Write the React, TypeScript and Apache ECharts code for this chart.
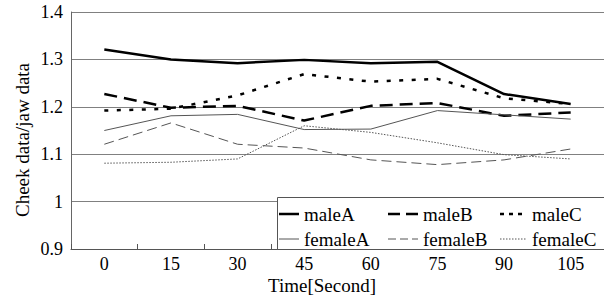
import React, { useEffect, useRef } from "react";
import * as echarts from "echarts";

const categories = ["0", "15", "30", "45", "60", "75", "90", "105"];
const seriesNames = ["maleA", "maleB", "maleC", "femaleA", "femaleB", "femaleC"];
const maleA = [1.321, 1.3, 1.292, 1.299, 1.292, 1.295, 1.227, 1.206];
const maleB = [1.227, 1.198, 1.202, 1.171, 1.202, 1.208, 1.181, 1.188];
const maleC = [1.192, 1.196, 1.224, 1.269, 1.253, 1.259, 1.218, 1.206];
const femaleA = [1.15, 1.181, 1.184, 1.152, 1.153, 1.192, 1.183, 1.174];
const femaleB = [1.121, 1.166, 1.121, 1.113, 1.088, 1.078, 1.088, 1.111];
const femaleC = [1.081, 1.083, 1.09, 1.16, 1.146, 1.124, 1.099, 1.09];
const values = [maleA, maleB, maleC, femaleA, femaleB, femaleC];

const FONT = "Liberation Serif";

const styles = [
  { color: "#000", width: 2.5, dash: null as number[] | null },
  { color: "#000", width: 2.5, dash: [13, 7] },
  { color: "#000", width: 2.5, dash: [4, 8.5] },
  { color: "#555", width: 1, dash: null },
  { color: "#555", width: 1, dash: [10, 5] },
  { color: "#555", width: 1, dash: [1.5, 1.5] },
];

export default function App() {
  const ref = useRef<HTMLDivElement>(null);
  useEffect(() => {
    if (!ref.current) return;
    const chart = echarts.init(ref.current, undefined, { renderer: "svg" });

    // legend layout: 3 columns x 2 rows
    const colIcon = [
      [279, 299],
      [388, 418],
      [500, 527],
    ];
    const legendDash = [null, [12, 6], [4, 5], null, [8, 4], [1.5, 1.5]];
    const rowY = [214, 239];
    const legendEls: any[] = [];
    seriesNames.forEach((name, i) => {
      const col = i % 3;
      const row = Math.floor(i / 3);
      const st = styles[i];
      legendEls.push({
        type: "line",
        z: 11,
        shape: { x1: colIcon[col][0], y1: rowY[row], x2: colIcon[col][1], y2: rowY[row] },
        style: {
          stroke: st.color,
          lineWidth: st.width,
          lineDash: legendDash[i] || undefined,
        },
      });
      legendEls.push({
        type: "text",
        z: 11,
        x: colIcon[col][1] + 5,
        y: rowY[row],
        style: {
          text: name,
          fontFamily: FONT,
          fontSize: 19,
          fill: "#000",
          align: "left",
          verticalAlign: "middle",
        },
      });
    });

    chart.setOption({
      animation: false,
      grid: { left: 71, right: -1, top: 12, bottom: 54 },
      xAxis: {
        type: "category",
        data: categories,
        boundaryGap: true,
        axisLine: { lineStyle: { color: "#555", width: 1 } },
        axisTick: { show: true, inside: true, length: 5, lineStyle: { color: "#555" } },
        axisLabel: { fontFamily: FONT, fontSize: 18, color: "#000", margin: 6 },
      },
      yAxis: {
        type: "value",
        min: 0.9,
        max: 1.4,
        interval: 0.1,
        axisLine: { show: true, lineStyle: { color: "#666", width: 1 } },
        axisTick: { show: false },
        splitLine: { lineStyle: { color: "#808080", width: 1 } },
        axisLabel: {
          fontFamily: FONT,
          fontSize: 18,
          color: "#000",
          margin: 8,
          formatter: (v: number) => String(Math.round(v * 10) / 10),
        },
      },
      graphic: [
        {
          type: "rect",
          z: 10,
          shape: { x: 277.5, y: 197.5, width: 340, height: 52 },
          style: { fill: "#fff", stroke: "#555", lineWidth: 1 },
        },
        ...legendEls,
        {
          type: "text",
          z: 9,
          x: 22,
          y: 140,
          rotation: Math.PI / 2,
          style: {
            text: "Cheek data/jaw data",
            fontFamily: FONT,
            fontSize: 19,
            fill: "#000",
            align: "center",
            verticalAlign: "middle",
          },
        },
        {
          type: "text",
          z: 9,
          x: 322,
          y: 285,
          style: {
            text: "Time[Second]",
            fontFamily: FONT,
            fontSize: 19,
            fill: "#000",
            align: "center",
            verticalAlign: "middle",
          },
        },
      ],
      series: seriesNames.map((name, i) => ({
        name,
        type: "line",
        data: values[i],
        symbol: "none",
        lineStyle: {
          color: styles[i].color,
          width: styles[i].width,
          type: styles[i].dash || "solid",
        },
        itemStyle: { color: styles[i].color },
      })),
    });
    return () => chart.dispose();
  }, []);
  return (
    <div
      ref={ref}
      style={{ position: "fixed", left: 0, top: 0, width: 604, height: 303, background: "#fff" }}
    />
  );
}
